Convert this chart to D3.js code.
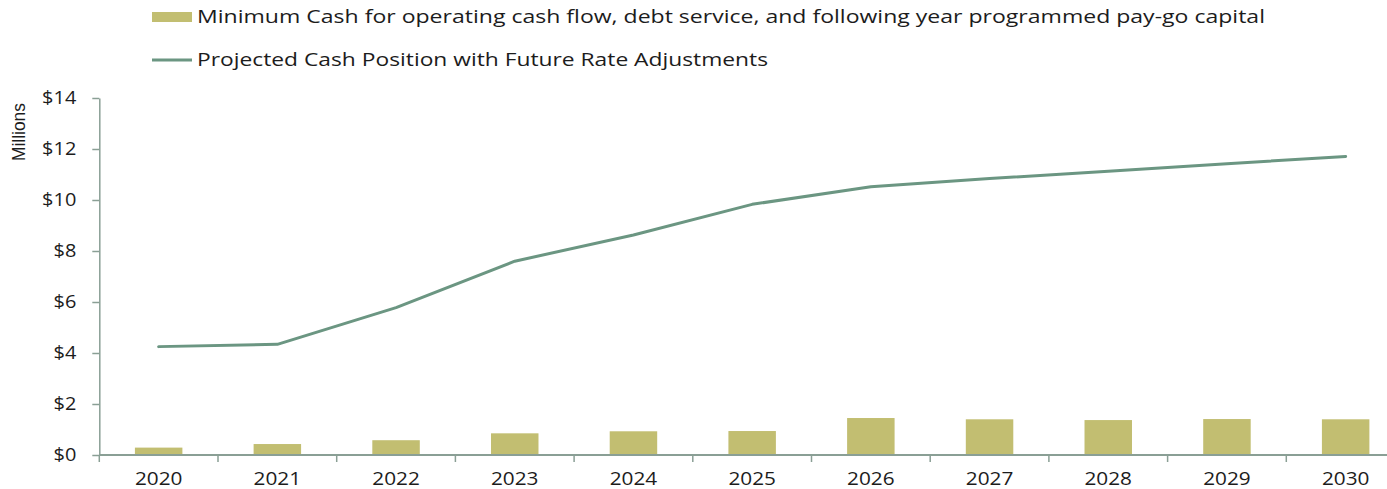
<!DOCTYPE html>
<html>
<head>
<meta charset="utf-8">
<script src="https://cdn.jsdelivr.net/npm/d3@7"></script>
<style>
  html, body { margin: 0; padding: 0; background: #ffffff; }
  svg { display: block; }
  text { font-family: "Open Sans", "Noto Sans", sans-serif; fill: #1c1c1c; }
</style>
</head>
<body>
<svg id="chart" width="1387" height="489"></svg>
<script>
// Fiscal years shown on the horizontal axis
const years = ["2020", "2021", "2022", "2023", "2024", "2025", "2026", "2027", "2028", "2029", "2030"];
// Minimum cash requirement ($ millions)
const minimumCash = [0.29, 0.43, 0.58, 0.85, 0.93, 0.94, 1.45, 1.40, 1.37, 1.41, 1.40];
// Projected cash position with future rate adjustments ($ millions)
const projectedCash = [4.25, 4.34, 5.78, 7.60, 8.63, 9.83, 10.52, 10.84, 11.13, 11.42, 11.71];
// Y axis tick values ($ millions)
const yTicks = [0, 2, 4, 6, 8, 10, 12, 14];
// Legend entries
const barLabel = "Minimum Cash for operating cash flow, debt service, and following year programmed pay-go capital";
const lineLabel = "Projected Cash Position with Future Rate Adjustments";
const axisTitle = "Millions";

const barColor = "#c2be71";
const lineColor = "#6b9682";
const axisColor = "#8a9f95";

const svg = d3.select("#chart");

const plotLeft = 99.3, plotTop = 98, plotBottom = 455;
const step = 118.7;

const x = d3.scaleBand()
  .domain(years)
  .range([plotLeft, plotLeft + step * years.length])
  .paddingInner(0.6)
  .paddingOuter(0.3);

const y = d3.scaleLinear().domain([0, 14]).range([plotBottom, plotTop]);

// Bars
svg.append("g").selectAll("rect")
  .data(years)
  .join("rect")
  .attr("x", d => x(d))
  .attr("width", x.bandwidth())
  .attr("y", (d, i) => y(minimumCash[i]))
  .attr("height", (d, i) => y(0) - y(minimumCash[i]))
  .attr("fill", barColor);

// Projected cash line
const line = d3.line()
  .x((d, i) => x(years[i]) + x.bandwidth() / 2)
  .y(d => y(d));

svg.append("path")
  .datum(projectedCash)
  .attr("d", line)
  .attr("fill", "none")
  .attr("stroke", lineColor)
  .attr("stroke-width", 3)
  .attr("stroke-linecap", "round")
  .attr("stroke-linejoin", "round");

// Y axis
const yAxis = svg.append("g")
  .attr("transform", `translate(${plotLeft},0)`)
  .call(d3.axisLeft(y).tickValues(yTicks).tickFormat(d => "$" + d).tickSize(7).tickSizeOuter(0).tickPadding(16));
yAxis.select(".domain").attr("stroke", axisColor).attr("stroke-width", 1.5);
yAxis.selectAll(".tick line").attr("stroke", axisColor).attr("stroke-width", 1.5);
yAxis.selectAll(".tick text")
  .attr("font-size", 17.5)
  .attr("fill", "#1c1c1c")
  .style("font-family", "'Open Sans', sans-serif")
  .attr("textLength", d => ("$" + d).length * 11.4)
  .attr("lengthAdjust", "spacingAndGlyphs");

// X axis: baseline, band boundary ticks, year labels
const xAxis = svg.append("g");
xAxis.append("line")
  .attr("x1", plotLeft).attr("x2", x.range()[1])
  .attr("y1", plotBottom).attr("y2", plotBottom)
  .attr("stroke", axisColor).attr("stroke-width", 2);

const gap = (x.step() - x.bandwidth()) / 2;
const boundaries = years.map(d => x(d) - gap).concat([x(years[years.length - 1]) + x.bandwidth() + gap]);
xAxis.selectAll("line.tick")
  .data(boundaries)
  .join("line")
  .attr("class", "tick")
  .attr("x1", d => d).attr("x2", d => d)
  .attr("y1", plotBottom).attr("y2", plotBottom + 7)
  .attr("stroke", axisColor).attr("stroke-width", 1.5);

xAxis.selectAll("text")
  .data(years)
  .join("text")
  .attr("x", d => x(d) + x.bandwidth() / 2)
  .attr("y", 485)
  .attr("text-anchor", "middle")
  .attr("font-size", 17.5)
  .attr("textLength", 47.5)
  .attr("lengthAdjust", "spacingAndGlyphs")
  .text(d => d);

// Axis title
svg.append("text")
  .attr("transform", "translate(25,132) rotate(-90)")
  .attr("text-anchor", "middle")
  .attr("font-size", 19)
  .style("font-family", "'Liberation Sans Narrow', 'Arial Narrow', 'Liberation Sans', sans-serif")
  .attr("textLength", 58)
  .attr("lengthAdjust", "spacingAndGlyphs")
  .text(axisTitle);

// Legend
const legend = svg.append("g");
legend.append("rect")
  .attr("x", 152).attr("y", 12)
  .attr("width", 40).attr("height", 10)
  .attr("fill", barColor);
legend.append("text")
  .attr("x", 197).attr("y", 23)
  .attr("font-size", 18)
  .attr("textLength", 1068)
  .attr("lengthAdjust", "spacingAndGlyphs")
  .text(barLabel);

legend.append("line")
  .attr("x1", 152).attr("x2", 192)
  .attr("y1", 60).attr("y2", 60)
  .attr("stroke", lineColor).attr("stroke-width", 3);
legend.append("text")
  .attr("x", 197).attr("y", 66)
  .attr("font-size", 18)
  .attr("textLength", 571)
  .attr("lengthAdjust", "spacingAndGlyphs")
  .text(lineLabel);
</script>
</body>
</html>
